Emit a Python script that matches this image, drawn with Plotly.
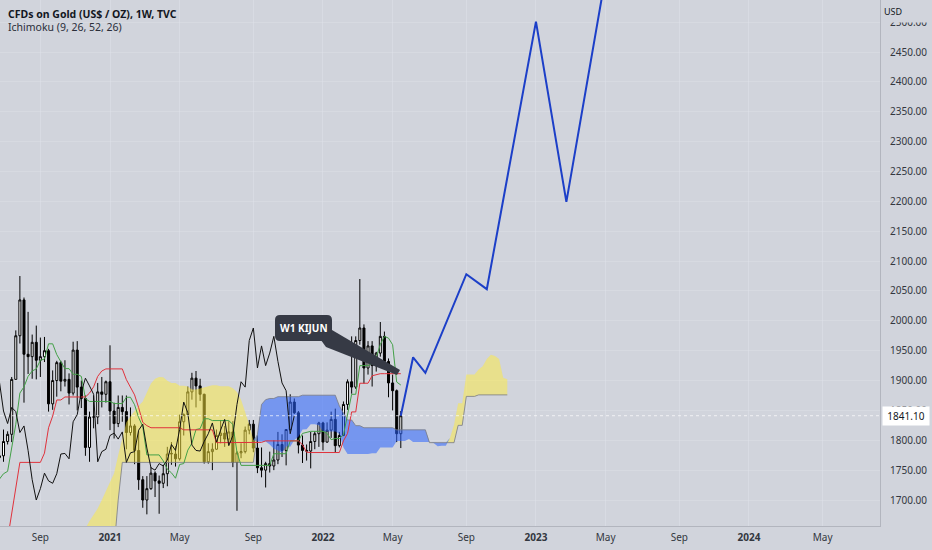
import plotly.graph_objects as go
import pandas as pd

# ---------------- data ----------------
dates = pd.date_range("2020-06-29", periods=99, freq="7D")  # weekly bars

opens = [1771, 1774, 1798, 1810, 1902, 1975, 2035, 1944, 1940, 1964, 1934, 1940, 1950, 1861, 1900, 1930,
         1899, 1902, 1879, 1951, 1889, 1870, 1788, 1839, 1839, 1881, 1877,
         1898, 1849, 1828, 1855, 1848, 1813, 1824, 1783, 1734, 1700, 1719, 1745, 1732, 1728, 1744, 1777,
         1777, 1769, 1831, 1843, 1881, 1904, 1891, 1877, 1764, 1781, 1785, 1808, 1812, 1802, 1814, 1763,
         1779, 1781, 1817, 1827, 1787, 1754, 1750, 1761, 1757, 1767, 1793, 1783, 1818, 1864, 1846, 1792,
         1783, 1782, 1798, 1811,
         1829, 1797, 1817, 1835, 1791, 1808, 1860, 1898, 1889, 1967, 1988, 1921, 1958, 1925, 1946, 1974,
         1932, 1896, 1883, 1811]
highs = [1789, 1818, 1815, 1906, 1984, 2075, 2039, 2015, 1977, 1992, 1972, 1973, 1953, 1917, 1933, 1933,
         1934, 1912, 1965, 1966, 1900, 1875, 1848, 1875, 1896, 1906, 1900,
         1959, 1863, 1875, 1875, 1875, 1855, 1827, 1815, 1740, 1740, 1755, 1748, 1741, 1759, 1789, 1797,
         1790, 1843, 1845, 1890, 1913, 1916, 1903, 1878, 1795, 1795, 1818, 1834, 1824, 1832, 1832, 1782,
         1795, 1823, 1834, 1834, 1808, 1788, 1764, 1781, 1800, 1814, 1810, 1818, 1877, 1870, 1849, 1808,
         1793, 1814, 1815, 1831,
         1831, 1830, 1848, 1853, 1814, 1865, 1902, 1974, 1974, 2070, 1994, 1966, 1966, 1948, 1998, 1982,
         1937, 1910, 1885, 1849]
lows = [1757, 1764, 1793, 1797, 1902, 1962, 1863, 1911, 1903, 1902, 1906, 1931, 1848, 1851, 1873, 1882,
        1890, 1860, 1875, 1850, 1854, 1774, 1764, 1820, 1827, 1855, 1863,
        1817, 1803, 1822, 1831, 1785, 1808, 1760, 1717, 1687, 1676, 1717, 1705, 1677, 1720, 1723, 1759,
        1756, 1766, 1808, 1840, 1868, 1855, 1866, 1761, 1761, 1750, 1784, 1795, 1789, 1795, 1755, 1682,
        1770, 1778, 1810, 1780, 1745, 1738, 1721, 1746, 1750, 1760, 1772, 1758, 1816, 1844, 1778, 1762,
        1766, 1753, 1785, 1789,
        1783, 1796, 1804, 1780, 1788, 1807, 1851, 1878, 1886, 1960, 1895, 1910, 1890, 1915, 1940, 1925,
        1872, 1850, 1797, 1787]
closes = [1774, 1798, 1810, 1902, 1975, 2035, 1944, 1940, 1964, 1934, 1940, 1950, 1861, 1900, 1930, 1899,
          1902, 1879, 1951, 1889, 1870, 1788, 1839, 1839, 1881, 1877, 1898,
          1849, 1828, 1855, 1848, 1813, 1824, 1783, 1734, 1700, 1719, 1745, 1732, 1728, 1744, 1777, 1778,
          1769, 1831, 1843, 1881, 1904, 1891, 1877, 1764, 1781, 1785, 1808, 1812, 1802, 1814, 1763, 1779,
          1781, 1817, 1827, 1787, 1754, 1750, 1761, 1757, 1767, 1793, 1783, 1818, 1864, 1846, 1792, 1783,
          1782, 1798, 1811, 1829,
          1797, 1817, 1835, 1791, 1808, 1860, 1898, 1889, 1967, 1988, 1921, 1958, 1925, 1946, 1974, 1932,
          1896, 1883, 1811, 1841.1]

# Ichimoku conversion (tenkan) and base (kijun) lines, one value per bar
tenkan = [1735, 1744, 1748, 1788, 1827, 1879, 1889.5, 1907, 1916, 1919.5, 1934, 1936, 1961.5, 1961.5,
          1943.5, 1931.5, 1920, 1920, 1910.5, 1910.5, 1907, 1870, 1865, 1865, 1865, 1865, 1865,
          1865, 1861.5, 1861.5, 1861.5, 1872, 1872, 1859.5, 1838, 1823, 1775.5, 1775.5, 1775.5, 1775.5,
          1765.5, 1751.5, 1745.5, 1736.5, 1759.5, 1761, 1783.5, 1795, 1818, 1819.5, 1836, 1836, 1833,
          1833, 1833, 1833, 1833, 1826.5, 1780, 1758, 1758, 1758, 1758, 1758, 1758, 1758, 1758,
          1777.5, 1777.5, 1777.5, 1777.5, 1799, 1799, 1799, 1811.5, 1813.5, 1815, 1815, 1815,
          1815, 1811.5, 1801, 1803, 1803, 1809, 1841, 1877, 1877, 1925, 1925, 1925, 1929, 1938.5,
          1960.5, 1974, 1971, 1960, 1897.5, 1892.5]
kijun = [1620, 1634.5, 1634.5, 1678.5, 1717.5, 1763, 1763, 1763, 1763, 1763, 1763, 1778.5, 1821,
         1840.5, 1867.5, 1867.5, 1872.5, 1872.5, 1872.5, 1872.5, 1872.5, 1872.5, 1879, 1889.5, 1907,
         1916, 1919.5,
         1919.5, 1919.5, 1919.5, 1919.5, 1901.5, 1889.5, 1876, 1854.5, 1830, 1824.5, 1821, 1821, 1821,
         1821, 1821, 1821, 1821, 1821, 1817.5, 1817.5, 1817.5, 1817.5, 1817.5, 1817.5, 1817.5, 1817.5,
         1796, 1796, 1796, 1796, 1796, 1796, 1796, 1796, 1796, 1796.5, 1796.5, 1796.5, 1799, 1799,
         1799, 1799, 1799, 1799, 1799, 1799, 1799, 1792.5, 1780, 1779.5, 1779.5, 1779.5, 1779.5,
         1779.5, 1779.5, 1779.5, 1779.5, 1799, 1811.5, 1847.5, 1847.5, 1895.5, 1895.5, 1895.5, 1908,
         1910, 1911.5, 1911.5, 1911.5, 1911.5, 1911.5, 1911.5]

# Leading spans (cloud), plotted 26 bars ahead
cloud_dates = pd.date_range("2020-11-09", periods=106, freq="7D")
span_a = [1625, 1640, 1652, 1665, 1676, 1686, 1700, 1715, 1730, 1745, 1775, 1805, 1830, 1840, 1850,
          1858, 1865, 1880, 1895, 1903, 1906, 1905.5, 1899.5, 1896, 1896, 1891.5, 1891.5, 1890, 1885,
          1885, 1887, 1889, 1890.5, 1892, 1892, 1890.5, 1890.5, 1890.5, 1887, 1881, 1868, 1846, 1826.5,
          1800, 1798, 1798, 1798, 1793, 1786, 1783, 1779, 1790, 1789, 1800.5, 1806, 1818, 1818.5, 1827,
          1827, 1825, 1814.5, 1814.5, 1814.5, 1814.5, 1811, 1788, 1777, 1777, 1777, 1777, 1777, 1777,
          1778.5, 1778.5, 1788, 1788, 1788, 1788, 1799, 1799, 1799, 1802, 1797, 1797, 1797, 1797, 1797,
          1795.5, 1790, 1791, 1791, 1804, 1826, 1862, 1862, 1910, 1910, 1910, 1918.5, 1924, 1936, 1943,
          1941, 1936, 1904.5, 1902]
span_b = [1560, 1560, 1560, 1560, 1560, 1560, 1560, 1560, 1560, 1620, 1700, 1763, 1763, 1763, 1763,
          1763, 1763, 1763, 1763, 1763, 1763, 1763, 1763, 1763, 1763, 1763, 1763, 1763, 1763, 1763,
          1763, 1763, 1763, 1763, 1763, 1763, 1763, 1763, 1763, 1763, 1763, 1763, 1763, 1763, 1810,
          1860, 1868, 1870, 1870, 1873, 1873, 1873, 1873, 1873, 1873, 1875.5, 1875.5, 1875.5, 1875.5,
          1875.5, 1875.5, 1875.5, 1875.5, 1875.5, 1857.5, 1845.5, 1834, 1834, 1824.5, 1824.5, 1821,
          1821, 1821, 1821, 1821, 1821, 1821, 1821, 1817.5, 1817.5, 1817.5, 1817.5, 1817.5, 1817.5,
          1817.5, 1817.5, 1796, 1796, 1796, 1796, 1796, 1796, 1796, 1825, 1825, 1873.5, 1873.5, 1873.5,
          1876, 1876, 1876, 1876, 1876, 1876, 1876, 1876]

# projected path (blue zig-zag)
proj_dates = ["2022-05-16", "2022-06-06", "2022-06-27", "2022-09-05", "2022-10-10",
              "2023-01-02", "2023-02-23", "2023-05-08"]
proj_values = [1841.1, 1939, 1913, 2078, 2053, 2501, 2199, 2617]

last_price = 1841.10

y_ticks = [1700, 1750, 1800, 1850, 1900, 1950, 2000, 2050, 2100, 2150, 2200, 2250, 2300, 2350,
           2400, 2450, 2500]
x_tick_dates = ["2020-09-07", "2021-01-04", "2021-05-03", "2021-09-06", "2022-01-03", "2022-05-02",
                "2022-09-05", "2023-01-02", "2023-05-01", "2023-09-04", "2024-01-01", "2024-05-06"]
x_tick_labels = ["Sep", "<b>2021</b>", "May", "Sep", "<b>2022</b>", "May", "Sep", "<b>2023</b>",
                 "May", "Sep", "<b>2024</b>", "May"]

# ---------------- figure ----------------
BG = "#D1D4DC"
PLOT_W, PLOT_H = 880, 526
FONT = "Noto Sans"

chikou_x = list(dates[:len(dates) - 26])
chikou_y = closes[26:]
cloud_top = [max(a, b) for a, b in zip(span_a, span_b)]

fig = go.Figure()
# bullish cloud (span A above span B) - yellow
fig.add_trace(go.Scatter(x=cloud_dates, y=span_b, mode="lines", line=dict(width=0),
                         hoverinfo="skip", showlegend=False))
fig.add_trace(go.Scatter(x=cloud_dates, y=cloud_top, mode="lines", line=dict(width=0),
                         fill="tonexty", fillcolor="rgba(255,235,59,0.50)",
                         hoverinfo="skip", showlegend=False))
# bearish cloud (span B above span A) - blue
fig.add_trace(go.Scatter(x=cloud_dates, y=span_a, mode="lines", line=dict(width=0),
                         hoverinfo="skip", showlegend=False))
fig.add_trace(go.Scatter(x=cloud_dates, y=cloud_top, mode="lines", line=dict(width=0),
                         fill="tonexty", fillcolor="rgba(41,98,255,0.55)",
                         hoverinfo="skip", showlegend=False))
fig.add_trace(go.Scatter(x=cloud_dates, y=span_b, mode="lines",
                         line=dict(width=1, color="rgba(120,123,134,0.8)"),
                         hoverinfo="skip", showlegend=False))

# candles
fig.add_trace(go.Candlestick(
    x=dates, open=opens, high=highs, low=lows, close=closes,
    increasing=dict(line=dict(color="#000000", width=1), fillcolor="#FFFFFF"),
    decreasing=dict(line=dict(color="#000000", width=1), fillcolor="#000000"),
    whiskerwidth=0, hoverinfo="skip", showlegend=False))

# ichimoku lines
fig.add_trace(go.Scatter(x=dates, y=tenkan, mode="lines", line=dict(width=1, color="#43A047"),
                         hoverinfo="skip", showlegend=False))
fig.add_trace(go.Scatter(x=dates, y=kijun, mode="lines", line=dict(width=1, color="#E0323C"),
                         hoverinfo="skip", showlegend=False))
fig.add_trace(go.Scatter(x=chikou_x, y=chikou_y, mode="lines", line=dict(width=1, color="#111111"),
                         hoverinfo="skip", showlegend=False))

# projection
fig.add_trace(go.Scatter(x=proj_dates, y=proj_values, mode="lines",
                         line=dict(width=2, color="#1C3FC8"), hoverinfo="skip", showlegend=False))


def pp(px, py):
    return px / PLOT_W, 1 - py / PLOT_H


def path_from(points, close=True):
    s = ""
    for cmd, pts in points:
        s += cmd + " " + " ".join(f"{pp(*p)[0]:.5f},{pp(*p)[1]:.5f}" for p in pts) + " "
    return s + ("Z" if close else "")


# callout box (rounded) and its tail
bx0, by0, bx1, by1, r = 275, 315, 332, 341, 5
box_path = path_from([
    ("M", [(bx0 + r, by0)]), ("L", [(bx1 - r, by0)]), ("Q", [(bx1, by0), (bx1, by0 + r)]),
    ("L", [(bx1, by1 - r)]), ("Q", [(bx1, by1), (bx1 - r, by1)]), ("L", [(bx0 + r, by1)]),
    ("Q", [(bx0, by1), (bx0, by1 - r)]), ("L", [(bx0, by0 + r)]), ("Q", [(bx0, by0), (bx0 + r, by0)]),
])
tail_path = path_from([("M", [(318, 336)]), ("L", [(332, 330)]), ("L", [(400, 370)]),
                       ("L", [(397, 375)]), ("L", [(326, 347)])])

shapes = [
    dict(type="line", xref="paper", yref="y", x0=0, x1=1, y0=last_price, y1=last_price,
         line=dict(color="rgba(255,255,255,0.7)", width=1, dash="dot"), layer="above"),
    dict(type="path", xref="paper", yref="paper", path=tail_path, fillcolor="#363A45",
         line=dict(width=0), layer="above"),
    dict(type="path", xref="paper", yref="paper", path=box_path, fillcolor="#363A45",
         line=dict(width=0), layer="above"),
]

annotations = [
    dict(text="<b>CFDs on Gold (US$ / OZ), 1W, TVC</b>", xref="paper", yref="paper",
         x=pp(6, 0)[0], y=pp(0, 14)[1], xanchor="left", yanchor="middle", showarrow=False,
         font=dict(family=FONT, size=10.5, color="#131722")),
    dict(text="Ichimoku (9, 26, 52, 26)", xref="paper", yref="paper",
         x=pp(6, 0)[0], y=pp(0, 27)[1], xanchor="left", yanchor="middle", showarrow=False,
         font=dict(family=FONT, size=10.5, color="#2A2E39")),
    dict(text="<b>W1 KIJUN</b>", xref="paper", yref="paper",
         x=pp((bx0 + bx1) / 2, 0)[0], y=pp(0, (by0 + by1) / 2)[1], xanchor="center",
         yanchor="middle", showarrow=False, font=dict(family=FONT, size=10, color="#FFFFFF")),
    dict(text="USD", xref="paper", yref="paper", x=pp(882, 0)[0], y=1,
         xanchor="left", yanchor="top", showarrow=False, align="left", valign="middle",
         width=48, height=19, bgcolor=BG, font=dict(family=FONT, size=9, color="#131722")),
    dict(text=f"{last_price:.2f}", xref="paper", yref="y", x=1, y=last_price, xanchor="left",
         yanchor="middle", xshift=2, showarrow=False, bgcolor="#FFFFFF", borderpad=2, width=42,
         font=dict(family=FONT, size=10, color="#131722")),
]

fig.update_layout(
    width=932, height=550,
    margin=dict(l=0, r=932 - PLOT_W, t=0, b=550 - PLOT_H),
    paper_bgcolor=BG, plot_bgcolor=BG,
    showlegend=False, hovermode=False,
    shapes=shapes, annotations=annotations,
    xaxis=dict(type="date", range=["2020-06-30", "2024-08-12"], rangeslider=dict(visible=False),
               tickvals=x_tick_dates, ticktext=x_tick_labels, ticks="", ticklabelstandoff=2,
               showgrid=True, gridcolor="rgba(225,228,235,0.45)", gridwidth=1,
               showline=True, linecolor="#B2B5BE", linewidth=1, zeroline=False,
               tickfont=dict(family=FONT, size=10, color="#333740")),
    yaxis=dict(side="right", range=[1656.5, 2537.1], tickvals=y_ticks,
               ticktext=[f"{v:.2f}" for v in y_ticks], ticks="", ticklabelstandoff=7,
               showgrid=True, gridcolor="rgba(225,228,235,0.35)", gridwidth=1,
               showline=True, linecolor="#B2B5BE", linewidth=1, zeroline=False,
               tickfont=dict(family=FONT, size=10, color="#333740")),
)

fig.write_html("out.html", config={"displayModeBar": False},
               post_script="document.body.style.margin='0';")
